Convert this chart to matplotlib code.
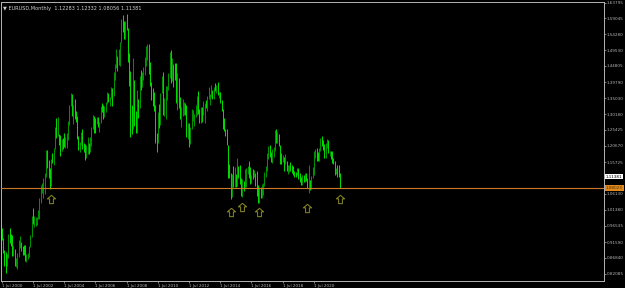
"""EURUSD monthly chart, MT4 style (green on black)."""
import numpy as np
import matplotlib
matplotlib.use('Agg')
import matplotlib.pyplot as plt
import matplotlib.transforms as mtransforms
from matplotlib.path import Path

BG = '#000000'
FG = '#b4b4b4'
UP = '#00a000'
DOWN = '#00f000'
HLINE = '#cc7a2a'
ARROW = '#8c8c24'

# monthly bars, Jul 2000 .. Mar 2022 (one row per year)
first_open = 0.9520
high = [
    0.9600, 0.9280, 0.8935, 0.8860, 0.8800, 0.9415,
    0.9595, 0.9395, 0.9365, 0.9055, 0.8940, 0.8690, 0.8820, 0.9215, 0.9345, 0.9170, 0.9040, 0.9060,
    0.9065, 0.8790, 0.8840, 0.9040, 0.9385, 0.9950, 1.0190, 0.9950, 0.9930, 0.9920, 1.0140, 1.0500,
    1.0880, 1.0930, 1.1080, 1.1230, 1.1935, 1.1930, 1.1640, 1.1390, 1.1680, 1.1840, 1.2010, 1.2630,
    1.2900, 1.2930, 1.2430, 1.2390, 1.2280, 1.2300, 1.2450, 1.2330, 1.2440, 1.2800, 1.3300, 1.3670,
    1.3630, 1.3280, 1.3480, 1.3100, 1.2960, 1.2370, 1.2190, 1.2480, 1.2580, 1.2140, 1.2110, 1.2090,
    1.2320, 1.2160, 1.2330, 1.2640, 1.2980, 1.2950, 1.2900, 1.2920, 1.2920, 1.2790, 1.3250, 1.3370,
    1.3290, 1.3260, 1.3390, 1.3680, 1.3650, 1.3540, 1.3850, 1.3810, 1.4280, 1.4530, 1.4970, 1.4780,
    1.4970, 1.5190, 1.5900, 1.6020, 1.5820, 1.5830, 1.6040, 1.5620, 1.4870, 1.4330, 1.3300, 1.4720,
    1.4060, 1.3110, 1.3740, 1.3480, 1.4170, 1.4340, 1.4300, 1.4450, 1.4740, 1.5060, 1.5140, 1.5140,
    1.4580, 1.3980, 1.3820, 1.3690, 1.3290, 1.2450, 1.3070, 1.3330, 1.3670, 1.4160, 1.4280, 1.3500,
    1.3860, 1.3860, 1.4250, 1.4880, 1.4940, 1.4700, 1.4540, 1.4550, 1.4550, 1.4250, 1.4120, 1.3550,
    1.3230, 1.3490, 1.3390, 1.3360, 1.3280, 1.2750, 1.2750, 1.2640, 1.3170, 1.3140, 1.3010, 1.3310,
    1.3580, 1.3710, 1.3160, 1.3240, 1.3240, 1.3420, 1.3350, 1.3450, 1.3570, 1.3830, 1.3620, 1.3890,
    1.3740, 1.3830, 1.3970, 1.3910, 1.3990, 1.3690, 1.3700, 1.3440, 1.3180, 1.2890, 1.2580, 1.2570,
    1.2100, 1.1530, 1.1240, 1.1220, 1.1470, 1.1440, 1.1220, 1.1710, 1.1460, 1.1500, 1.1100, 1.1060,
    1.1000, 1.1380, 1.1400, 1.1460, 1.1620, 1.1430, 1.1190, 1.1370, 1.1330, 1.1250, 1.1300, 1.0870,
    1.0830, 1.0830, 1.0910, 1.0950, 1.1270, 1.1450, 1.1850, 1.2070, 1.2090, 1.1880, 1.1960, 1.2020,
    1.2540, 1.2560, 1.2480, 1.2410, 1.2100, 1.1850, 1.1790, 1.1730, 1.1820, 1.1620, 1.1500, 1.1490,
    1.1570, 1.1490, 1.1450, 1.1320, 1.1270, 1.1410, 1.1410, 1.1250, 1.1110, 1.1180, 1.1180, 1.1240,
    1.1240, 1.1100, 1.1500, 1.1040, 1.1140, 1.1420, 1.1910, 1.1970, 1.2010, 1.1880, 1.2000, 1.2310,
    1.2350, 1.2240, 1.2110, 1.2150, 1.2270, 1.2250, 1.1910, 1.1910, 1.1910, 1.1690, 1.1620, 1.1390,
    1.1480, 1.1500, 1.1233,
]
low = [
    0.9220, 0.8825, 0.8440, 0.8228, 0.8450, 0.8680,
    0.9125, 0.9045, 0.8740, 0.8755, 0.8440, 0.8405, 0.8345, 0.8710, 0.8990, 0.8905, 0.8770, 0.8760,
    0.8580, 0.8565, 0.8665, 0.8700, 0.9000, 0.9320, 0.9710, 0.9620, 0.9640, 0.9690, 0.9850, 0.9870,
    1.0340, 1.0650, 1.0500, 1.0620, 1.1130, 1.1410, 1.1080, 1.0765, 1.0840, 1.1540, 1.1500, 1.1960,
    1.2300, 1.2360, 1.2080, 1.1760, 1.1900, 1.1960, 1.2020, 1.2000, 1.2010, 1.2230, 1.2700, 1.3260,
    1.2960, 1.2730, 1.2880, 1.2770, 1.2280, 1.1950, 1.1870, 1.2100, 1.1980, 1.1870, 1.1640, 1.1710,
    1.1810, 1.1830, 1.1880, 1.2070, 1.2560, 1.2460, 1.2460, 1.2720, 1.2630, 1.2480, 1.2760, 1.3090,
    1.2860, 1.2930, 1.3070, 1.3320, 1.3380, 1.3270, 1.3510, 1.3260, 1.3580, 1.4060, 1.4410, 1.4320,
    1.4500, 1.4470, 1.5150, 1.5510, 1.5290, 1.5290, 1.5560, 1.4580, 1.3880, 1.2330, 1.2420, 1.2560,
    1.2660, 1.2460, 1.2460, 1.2890, 1.3190, 1.3740, 1.3850, 1.4050, 1.4210, 1.4480, 1.4640, 1.4220,
    1.3860, 1.3440, 1.3270, 1.3110, 1.2140, 1.1880, 1.2150, 1.2590, 1.2690, 1.3660, 1.2990, 1.2970,
    1.2870, 1.3440, 1.3760, 1.4120, 1.3970, 1.4020, 1.3840, 1.4050, 1.3360, 1.3140, 1.3210, 1.2860,
    1.2620, 1.2970, 1.3000, 1.3000, 1.2330, 1.2280, 1.2040, 1.2130, 1.2560, 1.2800, 1.2660, 1.2920,
    1.2990, 1.3020, 1.2750, 1.2750, 1.2790, 1.2980, 1.2750, 1.3200, 1.3100, 1.3490, 1.3300, 1.3550,
    1.3480, 1.3480, 1.3710, 1.3670, 1.3590, 1.3500, 1.3370, 1.3120, 1.2570, 1.2500, 1.2360, 1.2100,
    1.1100, 1.1100, 1.0460, 1.0520, 1.0820, 1.0820, 1.0810, 1.0850, 1.1090, 1.0900, 1.0560, 1.0520,
    1.0710, 1.0810, 1.0820, 1.1210, 1.1100, 1.0910, 1.0950, 1.1050, 1.1120, 1.0850, 1.0560, 1.0350,
    1.0340, 1.0500, 1.0500, 1.0570, 1.0840, 1.1120, 1.1310, 1.1660, 1.1720, 1.1570, 1.1550, 1.1720,
    1.1920, 1.2160, 1.2150, 1.2060, 1.1510, 1.1510, 1.1580, 1.1300, 1.1530, 1.1300, 1.1220, 1.1270,
    1.1290, 1.1230, 1.1180, 1.1110, 1.1110, 1.1180, 1.1070, 1.0980, 1.0880, 1.0880, 1.0980, 1.0980,
    1.0990, 1.0780, 1.0640, 1.0730, 1.0770, 1.1100, 1.1190, 1.1700, 1.1610, 1.1620, 1.1600, 1.1920,
    1.2050, 1.1950, 1.1700, 1.1700, 1.1990, 1.1850, 1.1750, 1.1660, 1.1560, 1.1520, 1.1190, 1.1220,
    1.1120, 1.1110, 1.0806,
]
close = [
    0.9250, 0.8880, 0.8830, 0.8490, 0.8720, 0.9390,
    0.9350, 0.9215, 0.8790, 0.8880, 0.8480, 0.8490, 0.8770, 0.9120, 0.9140, 0.9000, 0.8920, 0.8900,
    0.8600, 0.8700, 0.8720, 0.9020, 0.9340, 0.9870, 0.9780, 0.9810, 0.9860, 0.9880, 0.9930, 1.0490,
    1.0770, 1.0790, 1.0910, 1.1180, 1.1790, 1.1500, 1.1240, 1.0990, 1.1650, 1.1580, 1.1990, 1.2590,
    1.2460, 1.2460, 1.2300, 1.1970, 1.2200, 1.2170, 1.2030, 1.2040, 1.2420, 1.2770, 1.3280, 1.3570,
    1.3040, 1.3250, 1.2960, 1.2870, 1.2300, 1.2100, 1.2130, 1.2340, 1.2020, 1.1990, 1.1790, 1.1840,
    1.2150, 1.1920, 1.2120, 1.2620, 1.2830, 1.2790, 1.2760, 1.2810, 1.2680, 1.2760, 1.3240, 1.3200,
    1.3020, 1.3240, 1.3350, 1.3650, 1.3460, 1.3530, 1.3690, 1.3630, 1.4260, 1.4490, 1.4640, 1.4590,
    1.4840, 1.5180, 1.5790, 1.5610, 1.5550, 1.5760, 1.5600, 1.4670, 1.4100, 1.2740, 1.2700, 1.3980,
    1.2800, 1.2670, 1.3250, 1.3240, 1.4150, 1.4030, 1.4250, 1.4330, 1.4640, 1.4720, 1.5000, 1.4320,
    1.3860, 1.3630, 1.3510, 1.3300, 1.2270, 1.2230, 1.3050, 1.2680, 1.3630, 1.3920, 1.2990, 1.3380,
    1.3700, 1.3800, 1.4170, 1.4810, 1.4390, 1.4500, 1.4390, 1.4370, 1.3390, 1.4130, 1.3440, 1.2960,
    1.3080, 1.3330, 1.3340, 1.3240, 1.2370, 1.2670, 1.2300, 1.2580, 1.2860, 1.2960, 1.2990, 1.3190,
    1.3580, 1.3060, 1.2820, 1.3170, 1.2990, 1.3010, 1.3300, 1.3220, 1.3530, 1.3580, 1.3590, 1.3760,
    1.3490, 1.3800, 1.3770, 1.3870, 1.3630, 1.3690, 1.3390, 1.3130, 1.2630, 1.2520, 1.2450, 1.2100,
    1.1290, 1.1200, 1.0730, 1.1200, 1.0990, 1.1150, 1.0980, 1.1210, 1.1180, 1.1000, 1.0570, 1.0860,
    1.0830, 1.0870, 1.1380, 1.1450, 1.1130, 1.1100, 1.1170, 1.1160, 1.1240, 1.0980, 1.0590, 1.0520,
    1.0800, 1.0580, 1.0650, 1.0900, 1.1240, 1.1420, 1.1830, 1.1910, 1.1810, 1.1650, 1.1900, 1.2000,
    1.2410, 1.2190, 1.2320, 1.2080, 1.1690, 1.1680, 1.1690, 1.1600, 1.1600, 1.1310, 1.1320, 1.1470,
    1.1440, 1.1370, 1.1220, 1.1210, 1.1170, 1.1370, 1.1080, 1.0990, 1.0900, 1.1150, 1.1020, 1.1220,
    1.1090, 1.1030, 1.1030, 1.0950, 1.1100, 1.1230, 1.1780, 1.1940, 1.1720, 1.1650, 1.1920, 1.2210,
    1.2130, 1.2070, 1.1730, 1.2020, 1.2230, 1.1860, 1.1870, 1.1810, 1.1580, 1.1560, 1.1340, 1.1370,
    1.1230, 1.1220, 1.1138,
]

# x labels every 24 months starting at Jul 2000
xtick_months = list(range(0, 241, 24))
xtick_labels = ['1 Jul %d' % y for y in range(2000, 2021, 2)]
ytick_values = [1.63795, 1.59045, 1.54280, 1.49530, 1.44805, 1.39790, 1.35030, 1.30180,
                1.25425, 1.20670, 1.15725, 1.06130, 1.01380, 0.96535, 0.91590, 0.86840, 0.82085]

hline_price = 1.08023
last_price = 1.11381
header = '\u25bc EURUSD,Monthly  1.12283 1.12332 1.08056 1.11381'

# hand-placed up arrows (month index, price)
arrow_months = [38, 176, 185, 198, 235, 260]
arrow_prices = [1.0452, 1.0078, 1.0211, 1.0078, 1.0199, 1.0470]

high = np.array(high)
low = np.array(low)
close = np.array(close)
opens = np.concatenate([[first_open], close[:-1]])
months = np.arange(len(close))
colors = np.where(close >= opens, UP, DOWN)

fig = plt.figure(figsize=(6.25, 2.88), dpi=100, facecolor=BG)
ax = fig.add_axes([1 / 625, 7 / 288, 603 / 625, 279 / 288], facecolor=BG)

ax.vlines(months, low, high, colors=colors, linewidth=0.65)

ax.axhline(hline_price, color=HLINE, linewidth=0.8, zorder=3)

# up arrow marker
arrow_path = Path([(0, 1), (-1, 0.15), (-0.45, 0.15), (-0.45, -1),
                   (0.45, -1), (0.45, 0.15), (1, 0.15), (0, 1)],
                  [Path.MOVETO] + [Path.LINETO] * 6 + [Path.CLOSEPOLY])
ax.plot(arrow_months, arrow_prices, linestyle='none', marker=arrow_path,
        markersize=6, markerfacecolor='none', markeredgecolor=ARROW,
        markeredgewidth=0.7, zorder=4)

ax.set_xlim(-0.54, 463)
ax.set_ylim(0.79884, 1.64006)

for s in ax.spines.values():
    s.set_color(FG)
    s.set_linewidth(0.7)

ax.yaxis.tick_right()
ax.set_yticks(ytick_values)
ax.set_yticklabels(['%.5f' % v for v in ytick_values])
ax.set_xticks(xtick_months)
ax.set_xticklabels(xtick_labels, ha='left')
ax.tick_params(axis='both', colors=FG, labelsize=3.0, length=1.5, width=0.5, pad=0.6)
for lbl in ax.get_xticklabels():
    lbl.set_color(FG)
for lbl in ax.get_yticklabels():
    lbl.set_color(FG)

# price boxes on the right scale
tr = mtransforms.blended_transform_factory(ax.transAxes, ax.transData)
ax.text(1.003, last_price, '%.5f' % last_price, transform=tr, fontsize=3.0,
        color='black', va='center', ha='left', clip_on=False,
        bbox=dict(boxstyle='square,pad=0.2', facecolor='white', edgecolor='none'))
ax.text(1.003, hline_price, '%.5f' % hline_price, transform=tr, fontsize=3.0,
        color='#4a2a00', va='center', ha='left', clip_on=False,
        bbox=dict(boxstyle='square,pad=0.2', facecolor='#e08a1e', edgecolor='none'))

ax.text(0.004, 0.985, header, transform=ax.transAxes, fontsize=3.6,
        color='#d0d0d0', va='top', ha='left')

fig.savefig('out.png', dpi=100, facecolor=BG)
plt.close(fig)
